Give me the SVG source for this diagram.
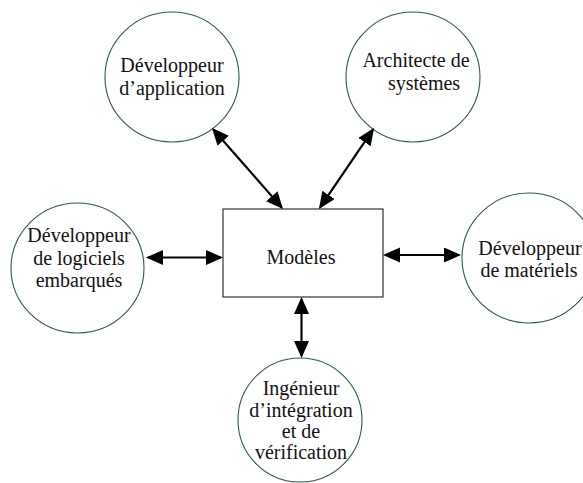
<svg xmlns="http://www.w3.org/2000/svg" width="583" height="483" viewBox="0 0 583 483">
<style>
.c{fill:#fff;stroke:#2c5a44;stroke-width:1.1}
.r{fill:#fff;stroke:#333;stroke-width:1.2}
.t{font-family:"Liberation Serif","Times New Roman",serif;font-size:20px;fill:#111;text-anchor:middle}
.a{stroke:#000;stroke-width:2.2;fill:none;marker-start:url(#ah);marker-end:url(#ah)}
</style>
<defs>
<marker id="ah" markerUnits="userSpaceOnUse" markerWidth="18" markerHeight="16" refX="15" refY="7.5" orient="auto-start-reverse" viewBox="0 0 18 16">
<path d="M0,0 L17,7.5 L0,15 z" fill="#000"/>
</marker>
</defs>
<rect width="583" height="483" fill="#fff"/>
<g id="app"><ellipse class="c" cx="172" cy="77" rx="67" ry="65"/><text class="t" x="172" y="72">Développeur</text><text class="t" x="172" y="94.5">d’application</text></g>
<g id="arch"><ellipse class="c" cx="413" cy="77" rx="67" ry="65"/><text class="t" x="416" y="67">Architecte de</text><text class="t" x="424" y="90">systèmes</text></g>
<g id="logiciels"><ellipse class="c" cx="77.5" cy="268" rx="66.5" ry="65"/><text class="t" x="79" y="242">Développeur</text><text class="t" x="79" y="264.5">de logiciels</text><text class="t" x="79" y="287">embarqués</text></g>
<g id="materiels"><ellipse class="c" cx="529" cy="258" rx="67" ry="65"/><text class="t" x="530" y="255">Développeur</text><text class="t" x="529" y="277">de matériels</text></g>
<g id="integration"><ellipse class="c" cx="300" cy="420" rx="62" ry="62"/><text class="t" x="301" y="395">Ingénieur</text><text class="t" x="301" y="416.5">d’intégration</text><text class="t" x="301" y="437.5">et de</text><text class="t" x="301" y="459">vérification</text></g>
<g id="modeles"><rect class="r" x="223" y="209" width="160" height="88"/><text class="t" x="301" y="264">Modèles</text></g>
<g id="connectors">
<line class="a" x1="213.3" y1="129.5" x2="281.7" y2="207.5"/>
<line class="a" x1="372.9" y1="129.7" x2="320.1" y2="207.3"/>
<line class="a" x1="148" y1="257.5" x2="221" y2="257.5"/>
<line class="a" x1="385" y1="255" x2="459" y2="255"/>
<line class="a" x1="301.5" y1="299" x2="301.5" y2="356"/>
</g>
</svg>
